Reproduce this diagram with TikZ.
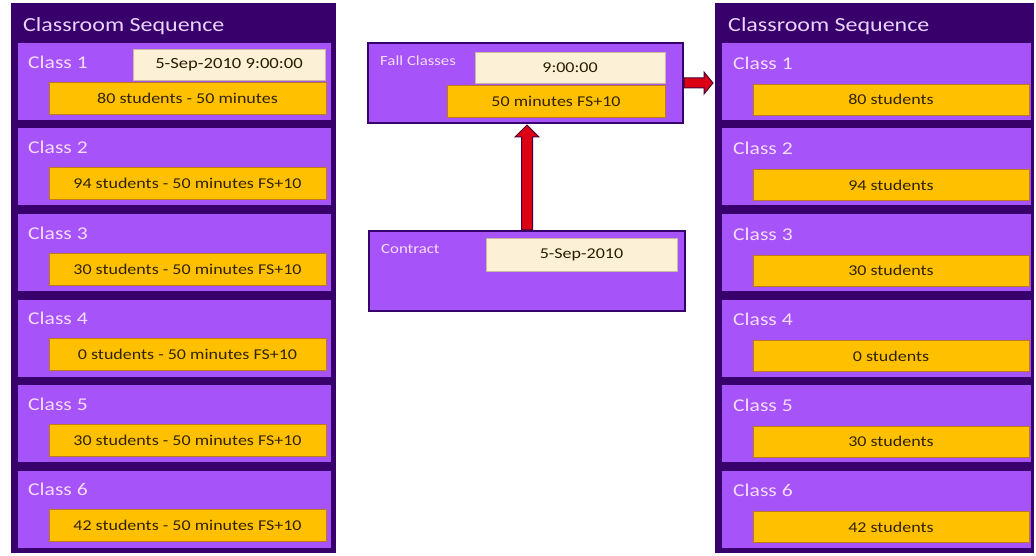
\documentclass[tikz,border=0pt]{standalone}
\usepackage{fontspec}
\setmainfont{Carlito}[FakeStretch=1.2]
\usetikzlibrary{calc}
\definecolor{panelc}{RGB}{56,0,107}
\definecolor{lightp}{RGB}{166,84,250}
\definecolor{barc}{RGB}{255,192,0}
\definecolor{barline}{RGB}{190,120,30}
\definecolor{creamc}{RGB}{252,240,214}
\definecolor{creamline}{RGB}{200,185,160}
\definecolor{titlec}{RGB}{233,212,255}
\definecolor{labc}{RGB}{246,220,255}
\definecolor{bartext}{RGB}{50,35,0}
\definecolor{arrred}{RGB}{220,0,20}
\definecolor{arrdark}{RGB}{70,0,60}
\tikzset{
  base/.style={anchor=north west, inner sep=0pt, outer sep=0pt},
  panel/.style={base, fill=panelc, minimum width=322pt, minimum height=550pt},
  classbox/.style={base, fill=lightp},
  midbox/.style={base, fill=lightp, draw=panelc, line width=2pt},
  bar/.style={base, fill=barc, draw=barline, line width=0.6pt, text=bartext, font=\fontsize{15}{17}\selectfont},
  cream/.style={base, fill=creamc, draw=creamline, line width=0.6pt, text=bartext!80!black, font=\fontsize{15}{17}\selectfont},
  ttl/.style={anchor=west, inner sep=0pt, text=titlec, font=\fontsize{20}{22}\selectfont},
  lbl/.style={anchor=west, inner sep=0pt, text=labc, font=\fontsize{18}{20}\selectfont},
  small/.style={anchor=west, inner sep=0pt, text=labc, font=\fontsize{14}{16}\selectfont},
  fatarrow/.style={fill=arrred, draw=arrdark, line width=1pt, line join=miter}
}
\begin{document}
\begin{tikzpicture}[x=1pt,y=-1pt]
\useasboundingbox[fill=white] (0,0) rectangle (1036,556);
% left panel
\node[panel, minimum width=325pt] (LP) at (11,3) {};
\node[ttl] (LT) at (23,26) {Classroom Sequence};
\foreach \i/\t in {1/{80 students - 50 minutes},2/{94 students - 50 minutes FS+10},3/{30 students - 50 minutes FS+10},4/{0 students - 50 minutes FS+10},5/{30 students - 50 minutes FS+10},6/{42 students - 50 minutes FS+10}}{
  \pgfmathsetmacro{\yy}{43+85.5*(\i-1)}
  \node[classbox, minimum width=313pt, minimum height=77pt] (L\i) at (18,\yy) {};
  \node[lbl] (LL\i) at ($(L\i.north west)+(10,19)$) {Class \i};
  \node[bar, minimum width=277pt, minimum height=32pt] (LB\i) at ($(L\i.north west)+(31,39)$) {\t};
}
\node[cream, minimum width=192pt, minimum height=31pt, font=\fontsize{15.5}{17}\selectfont] (LC1) at ($(L1.north west)+(115,6)$) {5-Sep-2010 9:00:00};
% right panel
\node[panel, minimum width=319pt] (RP) at (715,3) {};
\node[ttl] (RT) at (728,26) {Classroom Sequence};
\foreach \i/\t in {1/{80 students},2/{94 students},3/{30 students},4/{0 students},5/{30 students},6/{42 students}}{
  \pgfmathsetmacro{\yy}{43+85.5*(\i-1)}
  \node[classbox, minimum width=309pt, minimum height=77pt] (R\i) at (722,\yy) {};
  \node[lbl] (RL\i) at ($(R\i.north west)+(11,20)$) {Class \i};
  \node[bar, minimum width=276pt, minimum height=31pt] (RB\i) at ($(R\i.north west)+(31,41)$) {\t};
}
% middle: fall classes
\node[midbox, minimum width=315pt, minimum height=80pt] (F) at (368,43) {};
\node[small] (FT) at ($(F.north west)+(12,18)$) {Fall Classes};
\node[cream, minimum width=190pt, minimum height=31pt] (FC) at (475,52) {9:00:00};
\node[bar, minimum width=218pt, minimum height=32pt] (FB) at (447,85) {50 minutes FS+10};
% contract
\node[midbox, minimum width=316pt, minimum height=80pt] (C) at (369,231) {};
\node[small] (CT) at ($(C.north west)+(12,18)$) {Contract};
\node[cream, minimum width=191pt, minimum height=33pt] (CC) at (486,238) {5-Sep-2010};
% arrows
\coordinate (ua) at ($(C.north)+(0,-1)$);
\coordinate (ub) at ($(F.south -| C.north)+(0,2)$);
\draw[fatarrow] ($(ua)+(-5.5,0)$) -- ($(ub)+(-5.5,12)$) -- ($(ub)+(-12,12)$) -- (ub)
  -- ($(ub)+(12,12)$) -- ($(ub)+(5.5,12)$) -- ($(ua)+(5.5,0)$) -- cycle;
\coordinate (ra) at ($(F.east)+(1,0)$);
\coordinate (rb) at ($(F.east -| RP.west)+(-2,0)$);
\draw[fatarrow] ($(ra)+(0,-5)$) -- ($(rb)+(-9,-5)$) -- ($(rb)+(-9,-11)$) -- (rb)
  -- ($(rb)+(-9,11)$) -- ($(rb)+(-9,5)$) -- ($(ra)+(0,5)$) -- cycle;
\end{tikzpicture}
\end{document}
